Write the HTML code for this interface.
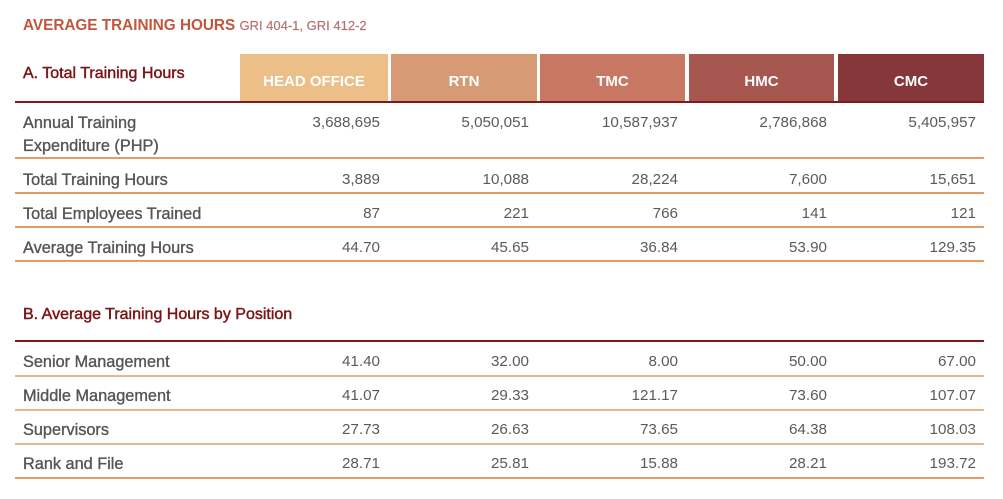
<!DOCTYPE html>
<html><head><meta charset="utf-8">
<style>
html,body{margin:0;padding:0;background:#fff;}
body{width:1003px;height:499px;position:relative;overflow:hidden;font-family:"Liberation Sans",sans-serif;}
.a{position:absolute;white-space:nowrap;}
.t{left:23px;font-size:15.3px;font-weight:bold;color:#c0563c;top:17px;line-height:18px;}
.t span{font-weight:normal;font-size:13px;color:#b57272;-webkit-text-stroke:0.2px #b57272;}
.sec{left:23px;font-size:16px;color:#7b1416;-webkit-text-stroke:0.45px #7b1416;line-height:18px;}
.h{top:54px;height:47px;color:#fff;font-weight:bold;font-size:15px;text-align:center;line-height:55px;}
.lab{left:23px;font-size:16.3px;color:#555;-webkit-text-stroke:0.35px #555;line-height:18px;}
.n{font-size:15.2px;color:#5a5a5a;text-align:right;width:140px;line-height:18px;}
.rl{left:15px;width:969px;height:2px;background:#e69a66;}
.rl2{left:15px;width:969px;height:2px;background:#eeb48c;}
.dl{left:15px;width:969px;height:2px;background:#7e1a1c;}
</style></head><body>
<div class="a t">AVERAGE TRAINING HOURS <span>GRI 404-1, GRI 412-2</span></div>

<div class="a sec" style="top:65px;">A. Total Training Hours</div>
<div class="a h" style="left:240px;width:148px;background:#ecbf88;">HEAD OFFICE</div>
<div class="a h" style="left:391px;width:146px;background:#d69a74;">RTN</div>
<div class="a h" style="left:540px;width:145px;background:#c87762;">TMC</div>
<div class="a h" style="left:689px;width:145px;background:#a6574f;">HMC</div>
<div class="a h" style="left:838px;width:146px;background:#85373a;">CMC</div>
<div class="a dl" style="top:101px;"></div>

<!-- Row 1 -->
<div class="a lab" style="top:114px;">Annual Training</div>
<div class="a lab" style="top:137px;">Expenditure (PHP)</div>
<div class="a n" style="top:114px;left:240px;">3,688,695</div>
<div class="a n" style="top:114px;left:389px;">5,050,051</div>
<div class="a n" style="top:114px;left:538px;">10,587,937</div>
<div class="a n" style="top:114px;left:687px;">2,786,868</div>
<div class="a n" style="top:114px;left:836px;">5,405,957</div>
<div class="a rl" style="top:157px;"></div>

<div class="a lab" style="top:171px;">Total Training Hours</div>
<div class="a n" style="top:171px;left:240px;">3,889</div>
<div class="a n" style="top:171px;left:389px;">10,088</div>
<div class="a n" style="top:171px;left:538px;">28,224</div>
<div class="a n" style="top:171px;left:687px;">7,600</div>
<div class="a n" style="top:171px;left:836px;">15,651</div>
<div class="a rl" style="top:192px;"></div>

<div class="a lab" style="top:205px;">Total Employees Trained</div>
<div class="a n" style="top:205px;left:240px;">87</div>
<div class="a n" style="top:205px;left:389px;">221</div>
<div class="a n" style="top:205px;left:538px;">766</div>
<div class="a n" style="top:205px;left:687px;">141</div>
<div class="a n" style="top:205px;left:836px;">121</div>
<div class="a rl" style="top:226px;"></div>

<div class="a lab" style="top:239px;">Average Training Hours</div>
<div class="a n" style="top:239px;left:240px;">44.70</div>
<div class="a n" style="top:239px;left:389px;">45.65</div>
<div class="a n" style="top:239px;left:538px;">36.84</div>
<div class="a n" style="top:239px;left:687px;">53.90</div>
<div class="a n" style="top:239px;left:836px;">129.35</div>
<div class="a rl" style="top:260px;"></div>

<div class="a sec" style="top:306px;">B. Average Training Hours by Position</div>
<div class="a dl" style="top:340px;"></div>

<div class="a lab" style="top:353px;">Senior Management</div>
<div class="a n" style="top:353px;left:240px;">41.40</div>
<div class="a n" style="top:353px;left:389px;">32.00</div>
<div class="a n" style="top:353px;left:538px;">8.00</div>
<div class="a n" style="top:353px;left:687px;">50.00</div>
<div class="a n" style="top:353px;left:836px;">67.00</div>
<div class="a rl2" style="top:375px;"></div>

<div class="a lab" style="top:387px;">Middle Management</div>
<div class="a n" style="top:387px;left:240px;">41.07</div>
<div class="a n" style="top:387px;left:389px;">29.33</div>
<div class="a n" style="top:387px;left:538px;">121.17</div>
<div class="a n" style="top:387px;left:687px;">73.60</div>
<div class="a n" style="top:387px;left:836px;">107.07</div>
<div class="a rl2" style="top:409px;"></div>

<div class="a lab" style="top:421px;">Supervisors</div>
<div class="a n" style="top:421px;left:240px;">27.73</div>
<div class="a n" style="top:421px;left:389px;">26.63</div>
<div class="a n" style="top:421px;left:538px;">73.65</div>
<div class="a n" style="top:421px;left:687px;">64.38</div>
<div class="a n" style="top:421px;left:836px;">108.03</div>
<div class="a rl2" style="top:443px;"></div>

<div class="a lab" style="top:455px;">Rank and File</div>
<div class="a n" style="top:455px;left:240px;">28.71</div>
<div class="a n" style="top:455px;left:389px;">25.81</div>
<div class="a n" style="top:455px;left:538px;">15.88</div>
<div class="a n" style="top:455px;left:687px;">28.21</div>
<div class="a n" style="top:455px;left:836px;">193.72</div>
<div class="a rl" style="top:477px;"></div>
</body></html>
